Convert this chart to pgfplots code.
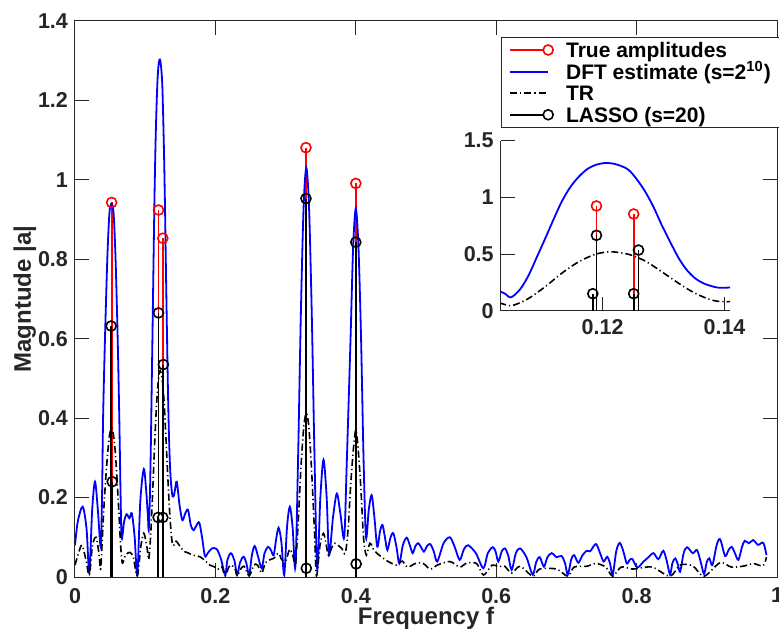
\documentclass[border=0pt]{standalone}
\usepackage{fontspec}
\setmainfont{Liberation Sans}
\usepackage{pgfplots}
\usepackage{pgfplotstable}
\pgfplotsset{compat=1.18}
\definecolor{axgray}{rgb}{0.15,0.15,0.15}
\definecolor{dftblue}{rgb}{0,0,1}

\pgfplotstableread{
f v
0.000 0.080
0.004 0.140
0.011 0.177
0.0165 0.120
0.0204 0.010
0.0245 0.170
0.0285 0.240
0.0325 0.170
0.0366 0.076
0.0385 0.200
0.0400 0.400
0.0427 0.600
0.0460 0.800
0.0490 0.915
0.0520 0.940
0.0550 0.915
0.0578 0.800
0.0608 0.600
0.0631 0.400
0.0650 0.200
0.0665 0.097
0.0700 0.140
0.0736 0.158
0.0775 0.148
0.0810 0.160
0.0850 0.100
0.0888 0.005
0.0930 0.190
0.0980 0.272
0.1015 0.215
0.1033 0.168
0.1040 0.150
0.1050 0.118
0.1065 0.190
0.1079 0.315
0.1092 0.470
0.1106 0.638
0.1120 0.810
0.1133 0.962
0.1147 1.090
0.1161 1.182
0.1175 1.250
0.1188 1.285
0.1202 1.302
0.1215 1.300
0.1229 1.280
0.1243 1.241
0.1256 1.160
0.1270 1.050
0.1284 0.910
0.1297 0.756
0.1311 0.605
0.1325 0.462
0.1338 0.360
0.1352 0.285
0.1366 0.240
0.1378 0.218
0.1390 0.203
0.1409 0.205
0.1425 0.220
0.1450 0.240
0.1490 0.180
0.1530 0.143
0.1570 0.160
0.1610 0.169
0.1650 0.130
0.1690 0.118
0.1730 0.130
0.1770 0.137
0.1810 0.100
0.1850 0.053
0.1890 0.060
0.1950 0.072
0.2020 0.070
0.2080 0.045
0.2140 0.005
0.2170 0.042
0.2220 0.060
0.2270 0.042
0.2310 0.005
0.2350 0.036
0.2400 0.051
0.2440 0.036
0.2480 0.005
0.2520 0.055
0.2560 0.078
0.2610 0.050
0.2660 0.022
0.2700 0.060
0.2750 0.076
0.2790 0.068
0.2830 0.055
0.2865 0.095
0.2900 0.124
0.2940 0.088
0.2980 0.005
0.3020 0.125
0.3060 0.177
0.3100 0.125
0.3140 0.026
0.3179 0.310
0.3217 0.660
0.3256 0.930
0.3295 1.030
0.3334 0.930
0.3373 0.660
0.3411 0.310
0.3450 0.020
0.3495 0.200
0.3540 0.295
0.3585 0.200
0.3620 0.055
0.3675 0.150
0.3730 0.210
0.3780 0.160
0.3835 0.100
0.3870 0.280
0.3925 0.600
0.3962 0.830
0.4000 0.928
0.4038 0.830
0.4075 0.600
0.4110 0.300
0.4145 0.100
0.4185 0.170
0.4226 0.206
0.4265 0.150
0.4306 0.076
0.4345 0.115
0.4380 0.131
0.4415 0.100
0.4450 0.068
0.4495 0.100
0.4535 0.110
0.4580 0.075
0.4620 0.034
0.4670 0.080
0.4725 0.099
0.4770 0.080
0.4810 0.060
0.4850 0.078
0.4890 0.085
0.4930 0.075
0.4970 0.064
0.5015 0.078
0.5060 0.083
0.5110 0.065
0.5160 0.039
0.5250 0.085
0.5340 0.100
0.5410 0.075
0.5480 0.043
0.5540 0.070
0.5600 0.080
0.5710 0.060
0.5817 0.022
0.5880 0.060
0.5950 0.075
0.5990 0.065
0.6030 0.039
0.6080 0.065
0.6125 0.072
0.6170 0.055
0.6220 0.018
0.6280 0.060
0.6340 0.072
0.6430 0.050
0.6520 0.006
0.6570 0.038
0.6620 0.050
0.6680 0.026
0.6730 0.050
0.6790 0.060
0.6860 0.050
0.6930 0.053
0.6980 0.035
0.7020 0.006
0.7070 0.045
0.7110 0.055
0.7170 0.036
0.7230 0.055
0.7290 0.066
0.7340 0.065
0.7420 0.083
0.7480 0.060
0.7530 0.039
0.7580 0.051
0.7620 0.035
0.7660 0.006
0.7710 0.065
0.7760 0.086
0.7810 0.065
0.7860 0.034
0.7900 0.043
0.7940 0.045
0.8010 0.024
0.8100 0.039
0.8170 0.050
0.8240 0.060
0.8310 0.045
0.8380 0.066
0.8430 0.040
0.8476 0.006
0.8510 0.035
0.8550 0.047
0.8590 0.030
0.8620 0.013
0.8670 0.060
0.8720 0.075
0.8800 0.060
0.8860 0.068
0.8910 0.040
0.8960 0.008
0.9000 0.038
0.9036 0.047
0.9080 0.030
0.9140 0.080
0.9190 0.095
0.9260 0.053
0.9310 0.068
0.9355 0.076
0.9400 0.060
0.9450 0.043
0.9500 0.075
0.9540 0.091
0.9600 0.085
0.9660 0.093
0.9730 0.081
0.9805 0.086
0.9850 0.055
}\dft

\pgfplotstableread{
f v
0.000 0.030
0.005 0.060
0.010 0.080
0.016 0.040
0.0204 0.005
0.025 0.080
0.030 0.100
0.034 0.060
0.0366 0.020
0.039 0.100
0.042 0.200
0.046 0.300
0.049 0.355
0.052 0.375
0.055 0.355
0.058 0.300
0.062 0.180
0.065 0.080
0.0675 0.035
0.072 0.055
0.078 0.062
0.083 0.050
0.0888 0.003
0.094 0.080
0.098 0.110
0.1015 0.085
0.1033 0.065
0.1048 0.044
0.1060 0.060
0.1079 0.109
0.1106 0.212
0.1133 0.330
0.1161 0.432
0.1188 0.497
0.1213 0.520
0.1243 0.497
0.1270 0.438
0.1297 0.344
0.1325 0.241
0.1352 0.153
0.1379 0.094
0.1401 0.079
0.144 0.090
0.150 0.076
0.156 0.064
0.162 0.060
0.168 0.055
0.178 0.051
0.186 0.040
0.192 0.030
0.198 0.026
0.204 0.020
0.209 0.026
0.214 0.003
0.219 0.025
0.223 0.030
0.228 0.020
0.231 0.003
0.236 0.020
0.241 0.027
0.248 0.003
0.255 0.030
0.260 0.030
0.266 0.010
0.271 0.035
0.277 0.043
0.283 0.047
0.290 0.060
0.294 0.045
0.300 0.040
0.306 0.070
0.311 0.050
0.314 0.030
0.318 0.140
0.322 0.280
0.326 0.380
0.3295 0.412
0.333 0.380
0.337 0.270
0.341 0.120
0.344 0.003
0.349 0.080
0.354 0.110
0.358 0.080
0.361 0.055
0.366 0.075
0.370 0.085
0.376 0.078
0.380 0.072
0.385 0.060
0.389 0.120
0.393 0.240
0.397 0.330
0.400 0.370
0.403 0.330
0.407 0.230
0.411 0.100
0.415 0.055
0.420 0.085
0.425 0.070
0.430 0.060
0.437 0.050
0.445 0.040
0.458 0.030
0.466 0.040
0.474 0.025
0.486 0.035
0.496 0.034
0.506 0.020
0.516 0.030
0.534 0.039
0.548 0.025
0.558 0.035
0.572 0.034
0.582 0.005
0.594 0.030
0.603 0.026
0.612 0.027
0.622 0.010
0.634 0.027
0.652 0.002
0.662 0.020
0.686 0.020
0.702 0.002
0.711 0.025
0.729 0.027
0.742 0.034
0.756 0.025
0.766 0.002
0.778 0.025
0.794 0.020
0.810 0.024
0.824 0.024
0.8476 0.002
0.862 0.030
0.880 0.028
0.896 0.002
0.919 0.036
0.935 0.025
0.954 0.028
0.966 0.034
0.980 0.028
0.985 0.050
}\tr

\pgfplotstableread{
f v
0.0522 0.943
0.1190 0.924
0.1251 0.853
0.3290 1.081
0.4000 0.991
}\truea

\pgfplotstableread{
f v
0.0515 0.632
0.0530 0.240
0.1184 0.150
0.1190 0.665
0.1251 0.150
0.1259 0.535
0.3290 0.953
0.3295 0.022
0.4000 0.843
0.4005 0.033
}\lasso

\tikzset{trstyle/.style={draw=black, line width=0.8pt, dash pattern=on 3.5pt off 1.5pt on 0.6pt off 1.5pt}}

\pgfplotsset{
  matlabax/.style={
    scale only axis,
    tick align=inside,
    major tick length=7pt,
    axis line style={axgray, line width=0.5pt},
    every tick/.style={axgray, line width=0.5pt},
    /pgf/number format/assume math mode=true,
    ticklabel style={font=\fontsize{10.75}{12}\selectfont\bfseries, text=axgray},
  },
}

\begin{document}
\begin{tikzpicture}
\begin{axis}[
  matlabax,
  at={(0pt,0pt)}, anchor=south west,
  width=351pt, height=278pt,
  xmin=0, xmax=1, ymin=0, ymax=1.4,
  xtick={0,0.2,0.4,0.6,0.8,1},
  ytick={0,0.2,0.4,0.6,0.8,1,1.2,1.4},
  xticklabel style={yshift=-2pt},
  xlabel={Frequency f},
  ylabel={Magntude |a|},
  label style={font=\fontsize{12}{14}\selectfont\bfseries, text=axgray},
  xlabel style={at={(axis description cs:0.5,-0.0863)}, anchor=base},
  ylabel style={at={(axis description cs:-0.0627,0.5)}, anchor=base},
  legend cell align=left,
  legend style={
    at={(0.6064,0.9718)}, anchor=north west,
    draw=axgray, line width=0.5pt, fill=white,
    inner xsep=4pt, inner ysep=1pt,
    font=\fontsize{10.5}{12}\selectfont\bfseries,
    nodes={inner sep=0.5pt, text height=8.7pt, text depth=1.1pt},
    row sep=0pt, column sep=5pt,
  },
]
\addplot[ycomb, red, line width=0.9pt, mark=o, mark size=2.5pt, mark options={solid, line width=0.8pt},
  legend image code/.code={\path (0pt,0pt) (22pt,0pt);
    \draw[draw=red, line width=0.8pt] (0pt,0pt) -- (16.5pt,0pt);
    \draw[draw=red, line width=0.8pt] (19pt,0pt) circle (2.5pt);}] table[x=f,y=v] {\truea};
\addlegendentry{True amplitudes}
\addplot[dftblue, line width=0.9pt, smooth, tension=0.5,
  legend image code/.code={\path (0pt,0pt) (22pt,0pt);
    \draw[draw=dftblue, line width=1pt] (0pt,0pt) -- (19pt,0pt);}] table[x=f,y=v] {\dft};
\addlegendentry{DFT estimate (s=2\textsuperscript{10})}
\addplot[trstyle, smooth, tension=0.5,
  legend image code/.code={\path (0pt,0pt) (22pt,0pt);
    \draw[trstyle] (0pt,0pt) -- (19pt,0pt);}] table[x=f,y=v] {\tr};
\addlegendentry{TR}
\addplot[ycomb, black, line width=0.9pt, mark=o, mark size=2.5pt, mark options={solid, line width=0.8pt},
  legend image code/.code={\path (0pt,0pt) (22pt,0pt);
    \draw[draw=black, line width=0.8pt] (0pt,0pt) -- (16.5pt,0pt);
    \draw[draw=black, line width=0.8pt] (19pt,0pt) circle (2.5pt);}] table[x=f,y=v] {\lasso};
\addlegendentry{LASSO (s=20)}
\end{axis}

\begin{axis}[
  matlabax,
  at={(212.85pt,133.15pt)}, anchor=south west,
  width=114.65pt, height=85pt,
  xmin=0.1033, xmax=0.1409, ymin=0, ymax=1.5,
  axis x line*=bottom, axis y line*=left,
  xtick={0.12,0.14}, ytick={0,0.5,1,1.5},
  xticklabel style={yshift=-1pt},
  axis background/.style={fill=white},
  clip=true,
]
\addplot[ycomb, red, line width=0.9pt, mark=o, mark size=2.5pt, mark options={solid, line width=0.8pt}] table[x=f,y=v] {\truea};
\addplot[dftblue, line width=0.9pt, smooth, tension=0.5] table[x=f,y=v] {\dft};
\addplot[trstyle, smooth, tension=0.5] table[x=f,y=v] {\tr};
\addplot[ycomb, black, line width=0.9pt, mark=o, mark size=2.5pt, mark options={solid, line width=0.8pt}] table[x=f,y=v] {\lasso};
\end{axis}
\pgfresetboundingbox
\useasboundingbox (-37.5pt,-26.5pt) rectangle (352pt,288.5pt);
\end{tikzpicture}
\end{document}
